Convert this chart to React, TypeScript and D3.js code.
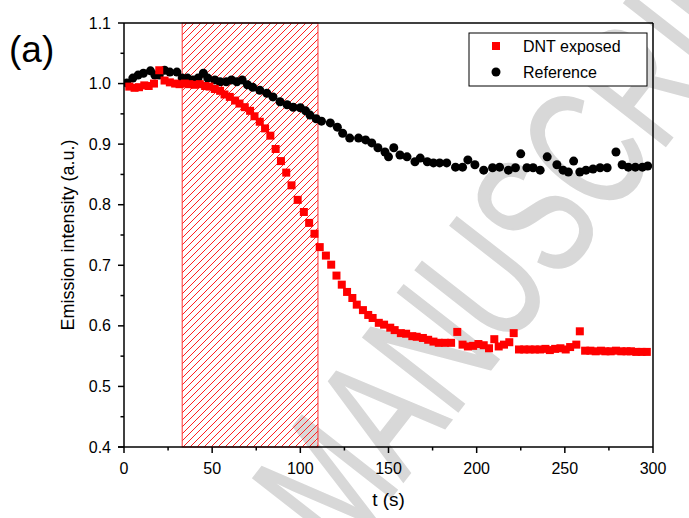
import React from "react";
import * as d3 from "d3";

const dntT = [3, 6, 8.5, 11.5, 14, 17, 20, 23, 26, 29, 31.5, 34.5, 37, 40, 43, 46, 48.5, 51.5, 54.5, 57, 60, 63, 65.5, 68.5, 71.5, 74, 77, 80, 83, 86, 89, 92, 95, 98.5, 102, 105, 108, 111, 114.5, 117.5, 120.5, 123.5, 126.5, 129.5, 132, 135.5, 138.5, 141, 144.5, 147.5, 151, 153.5, 157, 160, 163.5, 166, 169.5, 172.5, 175.5, 178.5, 182, 185.5, 189, 192, 195, 198, 201, 204, 207, 210, 212.5, 215.5, 218.5, 221, 224, 227, 230, 233, 236, 239, 241.5, 244.5, 247.5, 250.5, 253, 256.5, 258.5, 261.5, 264.5, 267.5, 270.5, 273, 276, 279, 282, 285, 287.5, 290.5, 293.5, 296.5];
const dntY = [0.995, 0.993, 0.994, 0.997, 0.996, 1.0, 1.022, 1.005, 1.002, 1.0, 0.999, 1.0, 0.999, 0.998, 0.999, 0.996, 0.995, 0.991, 0.988, 0.982, 0.978, 0.972, 0.967, 0.961, 0.955, 0.946, 0.937, 0.926, 0.914, 0.892, 0.872, 0.853, 0.832, 0.808, 0.788, 0.770, 0.752, 0.730, 0.716, 0.701, 0.683, 0.668, 0.656, 0.646, 0.635, 0.626, 0.618, 0.613, 0.605, 0.602, 0.597, 0.593, 0.588, 0.587, 0.583, 0.582, 0.580, 0.577, 0.574, 0.572, 0.572, 0.572, 0.590, 0.569, 0.566, 0.567, 0.570, 0.568, 0.563, 0.578, 0.566, 0.569, 0.573, 0.588, 0.561, 0.561, 0.561, 0.561, 0.561, 0.562, 0.560, 0.562, 0.563, 0.561, 0.565, 0.569, 0.591, 0.559, 0.559, 0.558, 0.559, 0.558, 0.558, 0.559, 0.558, 0.558, 0.558, 0.557, 0.557, 0.557];

const refT = [1.6, 5, 8, 11, 15, 17.5, 20, 23, 26, 30, 33, 36, 39, 42, 45, 47.5, 51.5, 54.5, 58, 61, 64, 67, 70, 73, 77, 81, 84.5, 88.5, 92.5, 96, 100, 103, 105.5, 109, 112, 117, 121, 124, 128, 133, 137, 140.5, 144, 148, 150, 153, 156.5, 160.5, 165, 168, 172, 175.5, 179, 183, 188, 192, 195, 199, 204, 209, 213, 218, 222, 225, 228.5, 232, 236, 240, 245.5, 249, 252, 255, 258.5, 262, 266, 270, 274, 279, 282.5, 286, 290, 294, 297];
const refY = [1.001, 1.009, 1.014, 1.017, 1.021, 1.014, 1.014, 1.022, 1.019, 1.019, 1.009, 1.009, 1.006, 1.009, 1.017, 1.009, 1.006, 1.003, 1.003, 1.006, 1.003, 1.006, 0.998, 0.994, 0.989, 0.984, 0.978, 0.970, 0.965, 0.961, 0.960, 0.955, 0.948, 0.942, 0.938, 0.935, 0.928, 0.918, 0.910, 0.910, 0.907, 0.902, 0.894, 0.887, 0.879, 0.894, 0.882, 0.879, 0.871, 0.877, 0.871, 0.869, 0.869, 0.869, 0.862, 0.862, 0.874, 0.866, 0.857, 0.861, 0.862, 0.857, 0.861, 0.884, 0.861, 0.861, 0.857, 0.879, 0.866, 0.857, 0.854, 0.872, 0.854, 0.857, 0.859, 0.861, 0.861, 0.887, 0.866, 0.862, 0.862, 0.862, 0.864];

const exposure = [33, 110];
const xTicks = [0, 50, 100, 150, 200, 250, 300];
const xMinor = [25, 75, 125, 175, 225, 275];
const yTicks = [0.4, 0.5, 0.6, 0.7, 0.8, 0.9, 1.0, 1.1];
const yMinor = [0.45, 0.55, 0.65, 0.75, 0.85, 0.95, 1.05];
const seriesNames = ["DNT exposed", "Reference"];

const W = 689, H = 518;
const M = { l: 124, r: 653, t: 23, b: 447 };
const FONT = "Liberation Sans, Arial, Helvetica, sans-serif";

export default function App() {
  const x = d3.scaleLinear().domain([0, 300]).range([M.l, M.r]);
  const y = d3.scaleLinear().domain([0.4, 1.1]).range([M.b, M.t]);
  const sq = 8;
  return (
    <svg width={W} height={H} style={{ position: "absolute", left: 0, top: 0, background: "#fff" }}>
      <defs>
        <pattern id="hatch" patternUnits="userSpaceOnUse" width={7} height={7}>
          <path d="M-1,1 l2,-2 M0,7 l7,-7 M6,8 l2,-2" stroke="#ff2020" strokeWidth={1} />
        </pattern>
        <clipPath id="plot">
          <rect x={M.l} y={M.t - 6} width={M.r - M.l + 6} height={M.b - M.t + 12} />
        </clipPath>
      </defs>
      <rect x={0} y={0} width={W} height={H} fill="#fff" />
      <text
        transform="translate(342,560) rotate(-52) scale(0.68,1)"
        fontFamily={FONT}
        fontSize={175}
        fill="#d8d8d8"
        stroke="#d8d8d8"
        strokeWidth={2}
      >
        MANUSCRIPT
      </text>
      <rect
        x={x(exposure[0])}
        y={M.t}
        width={x(exposure[1]) - x(exposure[0])}
        height={M.b - M.t}
        fill="url(#hatch)"
        stroke="#ff3030"
        strokeWidth={1}
      />
      <g clipPath="url(#plot)">
        {refT.map((t, i) => (
          <circle key={"r" + i} cx={x(t)} cy={y(refY[i])} r={4.5} fill="#000" />
        ))}
        {dntT.map((t, i) => (
          <rect key={"d" + i} x={x(t) - sq / 2} y={y(dntY[i]) - sq / 2} width={sq} height={sq} fill="#ff0000" />
        ))}
      </g>
      <line x1={M.l} x2={M.r} y1={M.t} y2={M.t} stroke="#000" strokeWidth={1.5} />
      <line x1={M.r} x2={M.r} y1={M.t} y2={M.b} stroke="#000" strokeWidth={1.5} />
      <line x1={M.l} x2={M.l} y1={M.t} y2={M.b} stroke="#000" strokeWidth={1.5} />
      <line x1={M.l - 6} x2={M.r} y1={M.b} y2={M.b} stroke="#000" strokeWidth={1.5} />
      {yTicks.map((v) => (
        <g key={"yt" + v}>
          <line x1={M.l - 6} x2={M.l} y1={y(v)} y2={y(v)} stroke="#000" strokeWidth={1.5} />
          <text x={M.l - 13} y={y(v) + 5.5} textAnchor="end" fontFamily={FONT} fontSize={16} fill="#000">
            {v.toFixed(1)}
          </text>
        </g>
      ))}
      {yMinor.map((v) => (
        <line key={"ym" + v} x1={M.l - 3.5} x2={M.l} y1={y(v)} y2={y(v)} stroke="#000" strokeWidth={1.5} />
      ))}
      {xTicks.map((v) => (
        <g key={"xt" + v}>
          <line x1={x(v)} x2={x(v)} y1={M.b} y2={M.b + 6} stroke="#000" strokeWidth={1.5} />
          <text x={x(v)} y={M.b + 27} textAnchor="middle" fontFamily={FONT} fontSize={16} fill="#000">
            {v}
          </text>
        </g>
      ))}
      {xMinor.map((v) => (
        <line key={"xm" + v} x1={x(v)} x2={x(v)} y1={M.b} y2={M.b + 3.5} stroke="#000" strokeWidth={1.5} />
      ))}
      <text x={(M.l + M.r) / 2} y={506} textAnchor="middle" fontFamily={FONT} fontSize={19} fill="#000">
        t (s)
      </text>
      <text
        transform={`translate(74,${(M.t + M.b) / 2}) rotate(-90)`}
        textAnchor="middle"
        fontFamily={FONT}
        fontSize={18}
        fill="#000"
      >
        Emission intensity (a.u.)
      </text>
      <text x={9} y={62} fontFamily={FONT} fontSize={37} fill="#000">
        (a)
      </text>
      <rect x={469} y={33} width={178} height={53} fill="#fff" stroke="#000" strokeWidth={1} />
      <rect x={492} y={42} width={8} height={8} fill="#ff0000" />
      <text x={523} y={52} fontFamily={FONT} fontSize={16} fill="#000">{seriesNames[0]}</text>
      <circle cx={496} cy={72} r={4.5} fill="#000" />
      <text x={523} y={78} fontFamily={FONT} fontSize={16} fill="#000">{seriesNames[1]}</text>
    </svg>
  );
}
